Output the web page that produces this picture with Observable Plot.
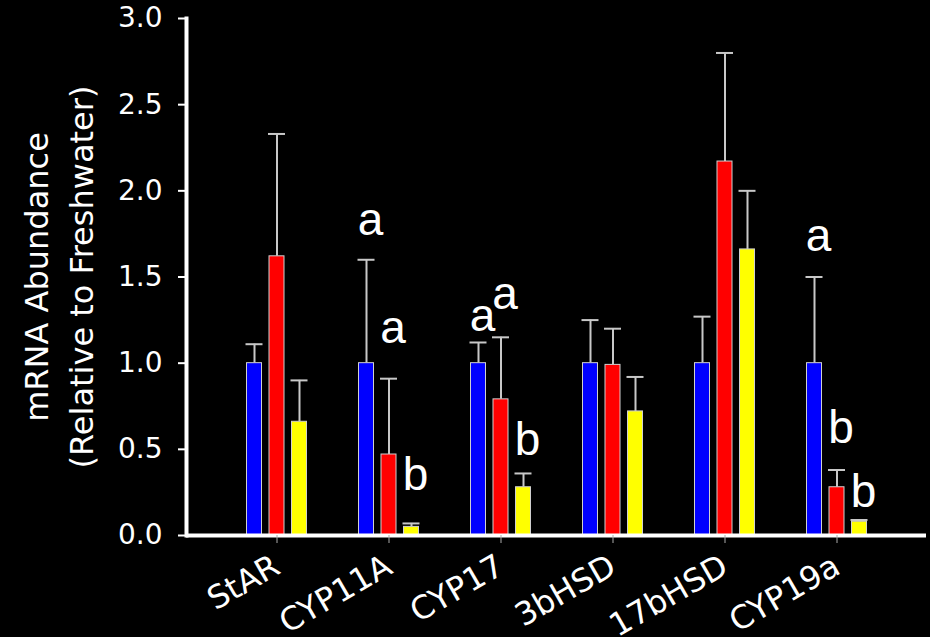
<!DOCTYPE html>
<html><head><meta charset="utf-8">
<script src="https://cdn.jsdelivr.net/npm/d3@7"></script>
<script src="https://cdn.jsdelivr.net/npm/@observablehq/plot@0.6"></script>
<style>html,body{margin:0;padding:0;background:#000;} #chart{width:930px;height:637px;}</style>
</head><body><div id="chart"></div>
<script>
const categories = ["StAR", "CYP11A", "CYP17", "3bHSD", "17bHSD", "CYP19a"];
const seriesNames = ["Freshwater", "Brackish water", "Seawater"];
const seriesColors = ["#0000ff", "#ff0000", "#ffff00"];
const freshwaterMean = [1.00, 1.00, 1.00, 1.00, 1.00, 1.00];
const freshwaterSE   = [0.11, 0.60, 0.12, 0.25, 0.27, 0.50];
const brackishMean   = [1.62, 0.47, 0.79, 0.99, 2.17, 0.28];
const brackishSE     = [0.71, 0.44, 0.36, 0.21, 0.63, 0.10];
const seawaterMean   = [0.66, 0.05, 0.28, 0.72, 1.66, 0.08];
const seawaterSE     = [0.24, 0.02, 0.08, 0.20, 0.34, 0.01];
const letterCategory = ["CYP11A", "CYP11A", "CYP11A", "CYP17", "CYP17", "CYP17", "CYP19a", "CYP19a", "CYP19a"];
const letterSeries   = [0, 1, 2, 0, 1, 2, 0, 1, 2];
const letterText     = ["a", "a", "b", "a", "a", "b", "a", "b", "b"];
const letterY        = [1.744, 1.116, 0.262, 1.188, 1.314, 0.465, 1.653, 0.539, 0.165];
const yTicks = [0, 0.5, 1.0, 1.5, 2.0, 2.5, 3.0];
const yTitle = "mRNA Abundance\n(Relative to Freshwater)";

const means = [freshwaterMean, brackishMean, seawaterMean];
const ses = [freshwaterSE, brackishSE, seawaterSE];
const rows = [];
seriesNames.forEach((s, i) => categories.forEach((c, j) =>
  rows.push({category: c, series: s, si: i, mean: means[i][j], upper: means[i][j] + ses[i][j]})));
const letters = letterText.map((t, k) => ({category: letterCategory[k], si: letterSeries[k], text: t, y: letterY[k]}));

const step = 22.5;
const marks = [];
seriesNames.forEach((s, i) => {
  const d = rows.filter(r => r.si === i);
  const dx = (i - 1) * step;
  marks.push(Plot.barY(d, {x: "category", y: "mean", dx, fill: seriesColors[i], stroke: "#d0d0d0", strokeWidth: 1}));
  marks.push(Plot.ruleX(d, {x: "category", y1: "mean", y2: "upper", dx, stroke: "#c8c8c8", strokeWidth: 2}));
  marks.push(Plot.tickY(d, {x: "category", y: "upper", dx, stroke: "#c8c8c8", strokeWidth: 2, insetLeft: -1, insetRight: -1}));
  marks.push(Plot.text(letters.filter(l => l.si === i), {x: "category", y: "y", text: "text", dx: dx + 4, fontSize: 46, fontFamily: "Liberation Sans", lineAnchor: "bottom", fill: "white"}));
});

const chart = Plot.plot({
  width: 930,
  height: 637,
  marginLeft: 186,
  marginRight: 4,
  marginTop: 18,
  marginBottom: 102,
  style: {background: "black", color: "white", fontFamily: "DejaVu Sans", overflow: "visible"},
  x: {domain: categories, paddingInner: 0.8705, paddingOuter: 0.73},
  y: {domain: [0, 3]},
  marks: [
    ...marks,
    Plot.ruleY([0], {stroke: "white", strokeWidth: 4}),
    Plot.frame({anchor: "left", stroke: "white", strokeWidth: 4}),
    Plot.axisY(yTicks, {tickSize: 8, tickPadding: 16, fontSize: 28, tickFormat: d3.format(".1f"), stroke: "white", strokeWidth: 2, label: null}),
    Plot.axisX({tickRotate: -30, fontSize: 32, tickSize: 8, tickPadding: 20, stroke: "#aaaaaa", label: null}),
    Plot.text([yTitle], {frameAnchor: "left", rotate: -90, textAnchor: "middle", dx: -130, fontSize: 32, lineHeight: 1.4, fill: "white"})
  ]
});
document.getElementById("chart").appendChild(chart);
</script>
</body></html>
